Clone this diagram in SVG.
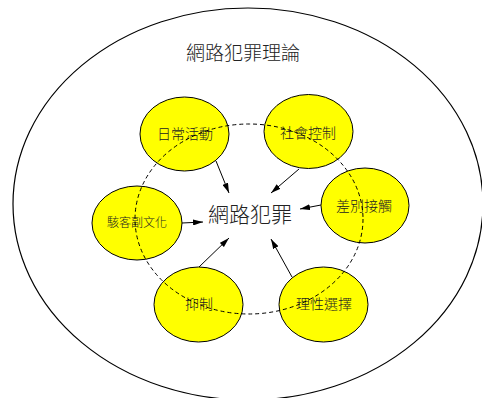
<svg xmlns="http://www.w3.org/2000/svg" width="482" height="398" viewBox="0 0 482 398">
<style>
.node{fill:#ffff00;stroke:#000;stroke-width:1}
.lbl{font-family:"Noto Sans CJK TC","Noto Sans CJK SC",sans-serif;font-weight:300;fill:#222;text-anchor:middle}
.edge{stroke:#000;stroke-width:1;fill:none;marker-end:url(#ah)}
</style>
<defs>
<marker id="ah" viewBox="0 0 10 6" refX="10" refY="3" markerWidth="10" markerHeight="6" markerUnits="userSpaceOnUse" orient="auto">
<path d="M0,0 L10,3 L0,6 Z" fill="#000"/>
</marker>
</defs>
<rect width="482" height="398" fill="#fff"/>
<g id="outer">
<ellipse cx="248" cy="204" rx="235" ry="196" fill="none" stroke="#000" stroke-width="1.2"/>
<text class="lbl" x="243" y="60" font-size="19">網路犯罪理論</text>
</g>
<g id="n-daily"><ellipse class="node" cx="184.5" cy="134" rx="44.5" ry="37"/><text class="lbl" x="185" y="139" font-size="14">日常活動</text></g>
<g id="n-social"><ellipse class="node" cx="308.5" cy="131.5" rx="44.5" ry="37"/><text class="lbl" x="308" y="138" font-size="14">社會控制</text></g>
<g id="n-diff"><ellipse class="node" cx="365" cy="205.5" rx="44" ry="37.5"/><text class="lbl" x="364" y="211" font-size="14">差別接觸</text></g>
<g id="n-hacker"><ellipse class="node" cx="137" cy="223" rx="45" ry="37"/><text class="lbl" x="137" y="227" font-size="12">駭客副文化</text></g>
<g id="n-deter"><ellipse class="node" cx="198.5" cy="304.5" rx="44.5" ry="37.5"/><text class="lbl" x="199" y="309" font-size="14">抑制</text></g>
<g id="n-rational"><ellipse class="node" cx="323.5" cy="304.5" rx="44.5" ry="37.5"/><text class="lbl" x="324" y="309" font-size="14">理性選擇</text></g>
<g id="ring">
<ellipse cx="249" cy="219" rx="114" ry="95" fill="none" stroke="#000" stroke-width="1" stroke-dasharray="4 3"/>
</g>
<g id="n-center"><text class="lbl" x="250" y="222" font-size="21">網路犯罪</text></g>
<g id="connectors">
<line class="edge" x1="216" y1="161" x2="229" y2="193"/>
<line class="edge" x1="299" y1="169" x2="271" y2="193"/>
<line class="edge" x1="321" y1="205" x2="300" y2="209"/>
<line class="edge" x1="182" y1="223" x2="203" y2="222"/>
<line class="edge" x1="199" y1="267" x2="229" y2="238"/>
<line class="edge" x1="292" y1="277" x2="271" y2="239"/>
</g>
</svg>
